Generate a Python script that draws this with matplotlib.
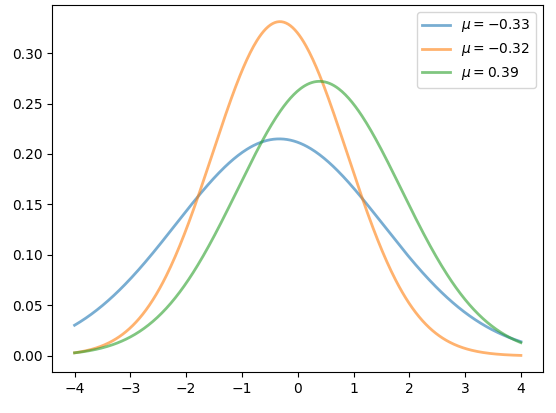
import numpy as np
import matplotlib
matplotlib.use("Agg")
import matplotlib.pyplot as plt

mus = [-0.33, -0.32, 0.39]
sigmas = [1.856, 1.205, 1.467]
labels = [r"$\mu=-0.33$", r"$\mu=-0.32$", r"$\mu=0.39$"]

x = np.linspace(-4, 4, 400)
fig, ax = plt.subplots(figsize=(5.56, 4.13), dpi=100)
fig.subplots_adjust(left=0.094, right=0.977, top=0.988, bottom=0.099)
for mu, s, lab in zip(mus, sigmas, labels):
    y = np.exp(-0.5 * ((x - mu) / s) ** 2) / (s * np.sqrt(2 * np.pi))
    ax.plot(x, y, lw=2, alpha=0.6, label=lab)
ax.legend()
fig.savefig("out.png", dpi=100)
